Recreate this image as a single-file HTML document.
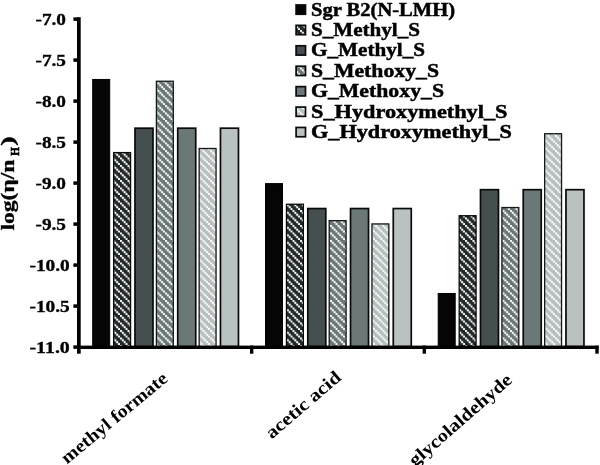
<!DOCTYPE html>
<html lang="en"><head><meta charset="utf-8"><title>chart</title>
<style>html,body{margin:0;padding:0;background:#fff;}body{width:600px;height:465px;overflow:hidden;}svg text{white-space:pre;}svg{will-change:transform;}</style></head>
<body>
<svg width="600" height="465" viewBox="0 0 600 465" style="display:block">
<defs>
<pattern id="h1" width="7.5" height="7.5" patternUnits="userSpaceOnUse"><rect width="7.5" height="7.5" fill="#222828"/><circle cx="0.938" cy="0.938" r="1.15" fill="#ffffff"/><circle cx="2.812" cy="2.812" r="1.15" fill="#ffffff"/><circle cx="4.688" cy="4.688" r="1.15" fill="#ffffff"/><circle cx="6.562" cy="6.562" r="1.15" fill="#ffffff"/></pattern>
<pattern id="h2" width="7.5" height="7.5" patternUnits="userSpaceOnUse"><rect width="7.5" height="7.5" fill="#6a7676"/><circle cx="0.938" cy="0.938" r="1.15" fill="#ffffff"/><circle cx="2.812" cy="2.812" r="1.15" fill="#ffffff"/><circle cx="4.688" cy="4.688" r="1.15" fill="#ffffff"/><circle cx="6.562" cy="6.562" r="1.15" fill="#ffffff"/></pattern>
<pattern id="h3" width="7.5" height="7.5" patternUnits="userSpaceOnUse"><rect width="7.5" height="7.5" fill="#b6bebe"/><circle cx="0.938" cy="0.938" r="1.15" fill="#ffffff"/><circle cx="2.812" cy="2.812" r="1.15" fill="#ffffff"/><circle cx="4.688" cy="4.688" r="1.15" fill="#ffffff"/><circle cx="6.562" cy="6.562" r="1.15" fill="#ffffff"/></pattern>
</defs>
<rect width="600" height="465" fill="#ffffff"/>
<rect x="92.70" y="79.46" width="17.00" height="267.14" fill="#050505" stroke="#000" stroke-width="1.0"/>
<rect x="113.67" y="152.59" width="16.90" height="194.01" fill="url(#h1)" stroke="#080a0a" stroke-width="1.3"/>
<rect x="134.99" y="128.19" width="18.00" height="218.41" fill="#464f50" stroke="#0a0a0a" stroke-width="1.7"/>
<rect x="156.41" y="81.25" width="16.90" height="265.35" fill="url(#h2)" stroke="#141a1a" stroke-width="1.3"/>
<rect x="177.73" y="128.19" width="18.00" height="218.41" fill="#6c7878" stroke="#0a0a0a" stroke-width="1.7"/>
<rect x="199.15" y="148.49" width="16.90" height="198.11" fill="url(#h3)" stroke="#141818" stroke-width="1.3"/>
<rect x="220.47" y="128.19" width="18.00" height="218.41" fill="#b9c1c1" stroke="#0a0a0a" stroke-width="1.7"/>
<rect x="265.50" y="183.60" width="17.00" height="163.00" fill="#050505" stroke="#000" stroke-width="1.0"/>
<rect x="286.47" y="204.25" width="16.90" height="142.35" fill="url(#h1)" stroke="#080a0a" stroke-width="1.3"/>
<rect x="307.79" y="208.55" width="18.00" height="138.05" fill="#464f50" stroke="#0a0a0a" stroke-width="1.7"/>
<rect x="329.21" y="220.65" width="16.90" height="125.95" fill="url(#h2)" stroke="#141a1a" stroke-width="1.3"/>
<rect x="350.53" y="208.55" width="18.00" height="138.05" fill="#6c7878" stroke="#0a0a0a" stroke-width="1.7"/>
<rect x="371.95" y="223.93" width="16.90" height="122.67" fill="url(#h3)" stroke="#141818" stroke-width="1.3"/>
<rect x="393.27" y="208.55" width="18.00" height="138.05" fill="#b9c1c1" stroke="#0a0a0a" stroke-width="1.7"/>
<rect x="438.20" y="293.48" width="17.00" height="53.12" fill="#050505" stroke="#000" stroke-width="1.0"/>
<rect x="459.17" y="215.73" width="16.90" height="130.87" fill="url(#h1)" stroke="#080a0a" stroke-width="1.3"/>
<rect x="480.49" y="189.69" width="18.00" height="156.91" fill="#464f50" stroke="#0a0a0a" stroke-width="1.7"/>
<rect x="501.91" y="207.53" width="16.90" height="139.07" fill="url(#h2)" stroke="#141a1a" stroke-width="1.3"/>
<rect x="523.23" y="189.69" width="18.00" height="156.91" fill="#6c7878" stroke="#0a0a0a" stroke-width="1.7"/>
<rect x="544.65" y="133.73" width="16.90" height="212.87" fill="url(#h3)" stroke="#141818" stroke-width="1.3"/>
<rect x="565.97" y="189.69" width="18.00" height="156.91" fill="#b9c1c1" stroke="#0a0a0a" stroke-width="1.7"/>
<rect x="77.0" y="17.2" width="3.70" height="336.50" fill="#000"/>
<rect x="77.0" y="345.6" width="521.70" height="3.40" fill="#000"/>
<rect x="73.4" y="17.35" width="4" height="3.5" fill="#000"/>
<rect x="73.4" y="58.35" width="4" height="3.5" fill="#000"/>
<rect x="73.4" y="99.35" width="4" height="3.5" fill="#000"/>
<rect x="73.4" y="140.35" width="4" height="3.5" fill="#000"/>
<rect x="73.4" y="181.35" width="4" height="3.5" fill="#000"/>
<rect x="73.4" y="222.35" width="4" height="3.5" fill="#000"/>
<rect x="73.4" y="263.35" width="4" height="3.5" fill="#000"/>
<rect x="73.4" y="304.35" width="4" height="3.5" fill="#000"/>
<rect x="73.4" y="345.35" width="4" height="3.5" fill="#000"/>
<rect x="250.00" y="345.6" width="3.4" height="8.10" fill="#000"/>
<rect x="422.60" y="345.6" width="3.4" height="8.10" fill="#000"/>
<rect x="595.30" y="345.6" width="3.4" height="8.10" fill="#000"/>
<text x="35.5" y="24.65" font-family="'Liberation Serif', serif" font-weight="bold" font-size="17.4" stroke="#000" stroke-width="0.35" textLength="30.5" lengthAdjust="spacingAndGlyphs" fill="#000">-7.0</text>
<text x="35.5" y="65.65" font-family="'Liberation Serif', serif" font-weight="bold" font-size="17.4" stroke="#000" stroke-width="0.35" textLength="30.5" lengthAdjust="spacingAndGlyphs" fill="#000">-7.5</text>
<text x="35.5" y="106.65" font-family="'Liberation Serif', serif" font-weight="bold" font-size="17.4" stroke="#000" stroke-width="0.35" textLength="30.5" lengthAdjust="spacingAndGlyphs" fill="#000">-8.0</text>
<text x="35.5" y="147.65" font-family="'Liberation Serif', serif" font-weight="bold" font-size="17.4" stroke="#000" stroke-width="0.35" textLength="30.5" lengthAdjust="spacingAndGlyphs" fill="#000">-8.5</text>
<text x="35.5" y="188.65" font-family="'Liberation Serif', serif" font-weight="bold" font-size="17.4" stroke="#000" stroke-width="0.35" textLength="30.5" lengthAdjust="spacingAndGlyphs" fill="#000">-9.0</text>
<text x="35.5" y="229.65" font-family="'Liberation Serif', serif" font-weight="bold" font-size="17.4" stroke="#000" stroke-width="0.35" textLength="30.5" lengthAdjust="spacingAndGlyphs" fill="#000">-9.5</text>
<text x="29.5" y="270.65" font-family="'Liberation Serif', serif" font-weight="bold" font-size="17.4" stroke="#000" stroke-width="0.35" textLength="40.3" lengthAdjust="spacingAndGlyphs" fill="#000">-10.0</text>
<text x="29.5" y="311.65" font-family="'Liberation Serif', serif" font-weight="bold" font-size="17.4" stroke="#000" stroke-width="0.35" textLength="40.3" lengthAdjust="spacingAndGlyphs" fill="#000">-10.5</text>
<text x="29.5" y="352.65" font-family="'Liberation Serif', serif" font-weight="bold" font-size="17.4" stroke="#000" stroke-width="0.35" textLength="40.3" lengthAdjust="spacingAndGlyphs" fill="#000">-11.0</text>
<g transform="translate(13.8,230.6) rotate(-90)"><g transform="scale(1,1.12)"><text x="0" y="0" font-family="'Liberation Serif', serif" font-weight="bold" stroke="#000" stroke-width="0.3" fill="#000" lengthAdjust="spacingAndGlyphs" font-size="17" textLength="71">log(η/n</text><text x="74.8" y="4.2" font-family="'Liberation Serif', serif" font-weight="bold" stroke="#000" stroke-width="0.55" fill="#000" lengthAdjust="spacingAndGlyphs" font-size="11.4" textLength="8.6">H</text><text x="84.6" y="0" font-family="'Liberation Serif', serif" font-weight="bold" stroke="#000" stroke-width="0.3" fill="#000" lengthAdjust="spacingAndGlyphs" font-size="17" textLength="9.8">)</text></g></g>
<rect x="296.1" y="4.95" width="9.4" height="9.3" fill="#050505" stroke="#0a0a0a" stroke-width="1.7"/>
<text x="311" y="15.60" font-family="'Liberation Serif', serif" font-weight="bold" font-size="18" stroke="#000" stroke-width="0.45" textLength="144" lengthAdjust="spacingAndGlyphs" fill="#000">Sgr B2(N-LMH)</text>
<rect x="296.1" y="25.37" width="9.4" height="9.3" fill="url(#h1)" stroke="#0a0a0a" stroke-width="1.7"/>
<text x="311" y="35.98" font-family="'Liberation Serif', serif" font-weight="bold" font-size="18" stroke="#000" stroke-width="0.45" textLength="109" lengthAdjust="spacingAndGlyphs" fill="#000">S_Methyl_S</text>
<rect x="296.1" y="45.79" width="9.4" height="9.3" fill="#464f50" stroke="#0a0a0a" stroke-width="1.7"/>
<text x="311" y="56.36" font-family="'Liberation Serif', serif" font-weight="bold" font-size="18" stroke="#000" stroke-width="0.45" textLength="114" lengthAdjust="spacingAndGlyphs" fill="#000">G_Methyl_S</text>
<rect x="296.1" y="66.21" width="9.4" height="9.3" fill="url(#h2)" stroke="#0a0a0a" stroke-width="1.7"/>
<text x="311" y="76.74" font-family="'Liberation Serif', serif" font-weight="bold" font-size="18" stroke="#000" stroke-width="0.45" textLength="128" lengthAdjust="spacingAndGlyphs" fill="#000">S_Methoxy_S</text>
<rect x="296.1" y="86.63" width="9.4" height="9.3" fill="#6c7878" stroke="#0a0a0a" stroke-width="1.7"/>
<text x="311" y="97.12" font-family="'Liberation Serif', serif" font-weight="bold" font-size="18" stroke="#000" stroke-width="0.45" textLength="133" lengthAdjust="spacingAndGlyphs" fill="#000">G_Methoxy_S</text>
<rect x="296.1" y="107.05" width="9.4" height="9.3" fill="url(#h3)" stroke="#0a0a0a" stroke-width="1.7"/>
<text x="311" y="117.50" font-family="'Liberation Serif', serif" font-weight="bold" font-size="18" stroke="#000" stroke-width="0.45" textLength="196.5" lengthAdjust="spacingAndGlyphs" fill="#000">S_Hydroxymethyl_S</text>
<rect x="296.1" y="127.47" width="9.4" height="9.3" fill="#b9c1c1" stroke="#0a0a0a" stroke-width="1.7"/>
<text x="311" y="137.88" font-family="'Liberation Serif', serif" font-weight="bold" font-size="18" stroke="#000" stroke-width="0.45" textLength="201" lengthAdjust="spacingAndGlyphs" fill="#000">G_Hydroxymethyl_S</text>
<g transform="translate(168.8,380.3) rotate(-39.6)"><text x="-132" y="0" font-family="'Liberation Serif', serif" font-weight="bold" font-size="18" textLength="132" lengthAdjust="spacingAndGlyphs" fill="#000">methyl formate</text></g>
<g transform="translate(342.3,379.0) rotate(-40.6)"><text x="-93" y="0" font-family="'Liberation Serif', serif" font-weight="bold" font-size="18" textLength="93" lengthAdjust="spacingAndGlyphs" fill="#000">acetic acid</text></g>
<g transform="translate(513.2,381.6) rotate(-41.0)"><text x="-130" y="0" font-family="'Liberation Serif', serif" font-weight="bold" font-size="18" textLength="130" lengthAdjust="spacingAndGlyphs" fill="#000">glycolaldehyde</text></g>
</svg>
</body></html>
